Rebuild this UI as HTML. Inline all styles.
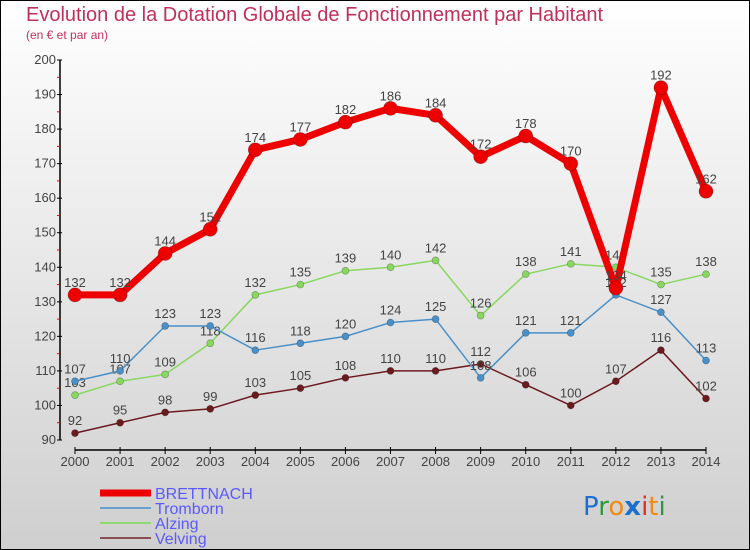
<!DOCTYPE html>
<html><head><meta charset="utf-8"><style>
body{margin:0;width:750px;height:550px;overflow:hidden;font-family:"Liberation Sans",sans-serif}
svg{display:block}
</style></head><body>
<svg id="chart" width="750" height="550" xmlns="http://www.w3.org/2000/svg">
<defs><linearGradient id="bg" x1="0" y1="0" x2="0" y2="1"><stop offset="0" stop-color="#ffffff"/><stop offset="1" stop-color="#cfcfcf"/></linearGradient></defs>
<rect x="0.5" y="0.5" width="749" height="549" fill="url(#bg)" stroke="#000"/>
<text x="26" y="21" font-size="20" fill="#c0305a">Evolution de la Dotation Globale de Fonctionnement par Habitant</text>
<text x="26" y="39" font-size="12" fill="#c0305a">(en € et par an)</text>
<g id="axes"></g><g id="series"></g><g id="legend"></g>
<text x="583" y="515" font-size="26" font-family="'DejaVu Sans',sans-serif"><tspan fill="#1a6fd0">P</tspan><tspan fill="#2a9a3a">r</tspan><tspan fill="#f08a10">o</tspan><tspan fill="#1a6fd0" font-weight="bold">x</tspan><tspan fill="#e03020">i</tspan><tspan fill="#f08a10">t</tspan><tspan fill="#2a9a3a">i</tspan></text>
</svg>
<script>
const years=[2000,2001,2002,2003,2004,2005,2006,2007,2008,2009,2010,2011,2012,2013,2014];
const brettnach=[132,132,144,151,174,177,182,186,184,172,178,170,134,192,162];
const tromborn=[107,110,123,123,116,118,120,124,125,108,121,121,132,127,113];
const alzing=[103,107,109,118,132,135,139,140,142,126,138,141,140,135,138];
const velving=[92,95,98,99,103,105,108,110,110,112,106,100,107,116,102];
const yTicks=[90,100,110,120,130,140,150,160,170,180,190,200];
const NS="http://www.w3.org/2000/svg";
const xs=i=>75+i*(706-75)/(years.length-1);
const ys=v=>440-(v-90)*(380/110);
function mk(t,a,p){const e=document.createElementNS(NS,t);for(const k in a)e.setAttribute(k,a[k]);p.appendChild(e);return e;}
const ax=document.getElementById('axes');
let l=mk('line',{x1:60,y1:60,x2:60,y2:440,stroke:'#000','stroke-width':1.5},ax);


l=mk('line',{x1:75,y1:450,x2:706,y2:450,stroke:'#000','stroke-width':1.5},ax);


yTicks.forEach(v=>{mk('line',{x1:57,y1:ys(v),x2:62,y2:ys(v),stroke:'#000'},ax);
 if(v<200)mk('line',{x1:57,y1:ys(v+5),x2:60,y2:ys(v+5),stroke:'#e00'},ax);
 const t=mk('text',{x:56,y:ys(v)+4,'text-anchor':'end','font-size':13,fill:'#444'},ax);t.textContent=v;
 
 });
years.forEach((y,i)=>{mk('line',{x1:xs(i),y1:447,x2:xs(i),y2:454,stroke:'#000'},ax);
 const t=mk('text',{x:xs(i),y:466,'text-anchor':'middle','font-size':13,fill:'#444'},ax);t.textContent=y;
 
 });
const sg=document.getElementById('series');
function draw(arr,color,w,r,name){const g=mk('g',{},sg);
 
 
 mk('polyline',{points:arr.map((v,i)=>xs(i)+','+ys(v)).join(' '),fill:'none',stroke:color,'stroke-width':w,'stroke-linejoin':'round'},g);
 arr.forEach((v,i)=>{const c=mk('circle',{cx:xs(i),cy:ys(v),r:r,fill:color,stroke:'rgba(0,0,0,0.3)','stroke-width':0.7},g);
  
  
  const t=mk('text',{x:xs(i),y:ys(v)-8,'text-anchor':'middle','font-size':13,fill:'#444'},g);t.textContent=v;
  
  });}
draw(velving,'#6b1a1e',1.5,3.5,'velving');
draw(alzing,'#88d860',1.5,3.5,'alzing');
draw(tromborn,'#4a90c8',1.5,3.5,'tromborn');
draw(brettnach,'#ee0000',7,7,'brettnach');
const lg=document.getElementById('legend');
[['BRETTNACH','#ee0000',7],['Tromborn','#6aa0d0',2],['Alzing','#90d870',2],['Velving','#8a5050',2]].forEach((d,i)=>{
 const y=493+i*15;const g=mk('g',{},lg);
 
 
 mk('line',{x1:100,y1:y,x2:151,y2:y,stroke:d[1],'stroke-width':d[2]},g);
 const t=mk('text',{x:155,y:y+6,'font-size':16,fill:'#5a5aff'},g);t.textContent=d[0];});
</script>
</body></html>
